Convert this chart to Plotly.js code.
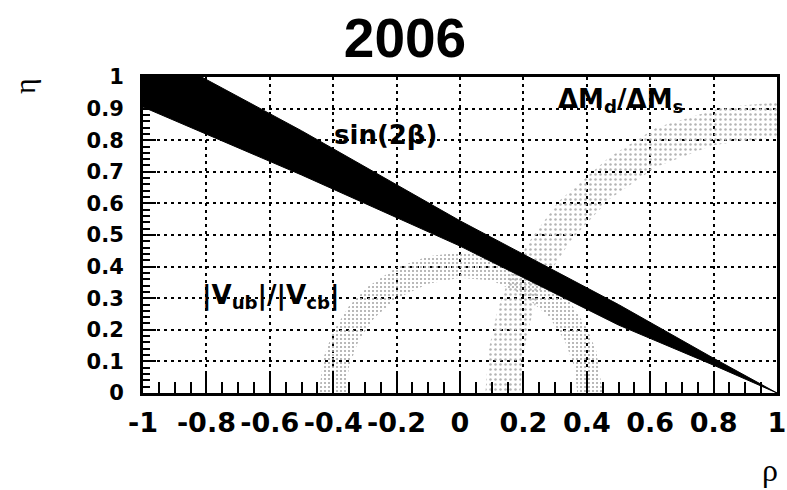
<!DOCTYPE html>
<html>
<head>
<meta charset="utf-8">
<script src="https://cdn.plot.ly/plotly-3.0.1.min.js"></script>
<style>html,body{margin:0;padding:0;background:#fff;}#chart{width:787px;height:490px;}</style>
</head>
<body>
<div id="chart"></div>
<script>
// sin(2beta) band edges (rho, eta)
var sinLowerRho = [-1.0, -0.5, 0.0, 0.5, 0.8, 1.0];
var sinLowerEta = [0.905, 0.69, 0.465, 0.215, 0.088, 0.0];
var sinUpperRho = [1.0, 0.8, 0.5, 0.0, -0.5, -0.815, -1.0];
var sinUpperEta = [0.0, 0.11, 0.28, 0.545, 0.83, 1.0, 1.1];

// |Vub|/|Vcb| band edges
var vubOuterRho = [-0.445, -0.43, -0.40, -0.35, -0.29, -0.20, -0.10, 0.0, 0.10, 0.20, 0.29, 0.35, 0.40, 0.43, 0.45];
var vubOuterEta = [0.0, 0.114, 0.195, 0.275, 0.337, 0.397, 0.433, 0.445, 0.438, 0.403, 0.344, 0.283, 0.206, 0.133, 0.0];
var vubInnerRho = [0.37, 0.36, 0.33, 0.28, 0.20, 0.10, 0.0, -0.10, -0.20, -0.27, -0.32, -0.35, -0.36];
var vubInnerEta = [0.0, 0.085, 0.167, 0.242, 0.311, 0.356, 0.365, 0.346, 0.299, 0.238, 0.165, 0.084, 0.0];

// Delta M_d / Delta M_s band edges
var dmOuterRho = [0.08, 0.09, 0.12, 0.16, 0.215, 0.31, 0.47, 0.62, 0.83, 1.0, 1.05];
var dmOuterEta = [0.0, 0.135, 0.268, 0.375, 0.475, 0.605, 0.745, 0.84, 0.904, 0.92, 0.92];
var dmInnerRho = [1.05, 1.0, 0.8, 0.62, 0.47, 0.35, 0.30, 0.25, 0.22, 0.20, 0.19];
var dmInnerEta = [0.81, 0.81, 0.785, 0.716, 0.612, 0.483, 0.407, 0.319, 0.219, 0.125, 0.0];

var xTickVals = [-1, -0.8, -0.6, -0.4, -0.2, 0, 0.2, 0.4, 0.6, 0.8, 1];
var xTickText = ['-1', '-0.8', '-0.6', '-0.4', '-0.2', '0', '0.2', '0.4', '0.6', '0.8', '1'];
var yTickVals = [0, 0.1, 0.2, 0.3, 0.4, 0.5, 0.6, 0.7, 0.8, 0.9, 1];
var yTickText = ['0', '0.1', '0.2', '0.3', '0.4', '0.5', '0.6', '0.7', '0.8', '0.9', '1'];

var labels = ['sin(2\u03b2)', '|V<sub>ub</sub>|/|V<sub>cb</sub>|', '\u0394M<sub>d</sub>/\u0394M<sub>s</sub>'];
var labelRho = [-0.235, -0.595, 0.507];
var labelEta = [0.818, 0.305, 0.925];

function band(r1, e1, r2, e2) {
  return {x: r1.concat(r2).concat([r1[0]]), y: e1.concat(e2).concat([e1[0]])};
}

var vub = band(vubOuterRho, vubOuterEta, vubInnerRho, vubInnerEta);
var dm = band(dmOuterRho, dmOuterEta, dmInnerRho, dmInnerEta);
var sb = band(sinLowerRho, sinLowerEta, sinUpperRho, sinUpperEta);

var traces = [
  {x: vub.x, y: vub.y, type: 'scatter', mode: 'lines', fill: 'toself', line: {width: 0, color: 'rgba(0,0,0,0)'},
   fillcolor: 'rgba(0,0,0,0)', fillpattern: {shape: '.', fgcolor: '#a8a8a8', size: 4, solidity: 0.22}, hoverinfo: 'skip', showlegend: false},
  {x: dm.x, y: dm.y, type: 'scatter', mode: 'lines', fill: 'toself', line: {width: 0, color: 'rgba(0,0,0,0)'},
   fillcolor: 'rgba(0,0,0,0)', fillpattern: {shape: '.', fgcolor: '#b4b4b4', size: 5, solidity: 0.2}, hoverinfo: 'skip', showlegend: false},
  {x: sb.x, y: sb.y, type: 'scatter', mode: 'lines', fill: 'toself', line: {width: 1, color: '#000'},
   fillcolor: '#000', hoverinfo: 'skip', showlegend: false}
];

var L = 143, R = 10, T = 77, B = 97, W = 787, H = 490;
var pw = W - L - R, ph = H - T - B;

var ann = [];
var labelSizes = [26, 26, 26];
for (var i = 0; i < labels.length; i++) {
  ann.push({x: labelRho[i], y: labelEta[i], xref: 'x', yref: 'y', text: labels[i], showarrow: false,
    font: {family: 'DejaVu Sans', size: labelSizes[i], color: '#000', weight: 'bold'}});
}
ann.push({x: (24 - L) / pw, y: (H - B - 86) / ph, xref: 'paper', yref: 'paper', xanchor: 'center', yanchor: 'middle',
  text: '\u03b7', showarrow: false, textangle: -90,
  font: {family: 'Liberation Serif', size: 30, color: '#000'}});
ann.push({x: (770 - L) / pw, y: (H - B - 470) / ph, xref: 'paper', yref: 'paper', xanchor: 'center', yanchor: 'middle',
  text: '\u03c1', showarrow: false,
  font: {family: 'Liberation Serif', size: 32, color: '#000'}});

var layout = {
  width: W, height: H,
  margin: {l: L, r: R, t: T, b: B, pad: 0},
  paper_bgcolor: '#fff', plot_bgcolor: '#fff',
  showlegend: false,
  title: {text: '2006', x: 405 / W, xref: 'container', xanchor: 'center', y: 1 - 38 / H, yref: 'container', yanchor: 'middle',
    font: {family: 'Liberation Sans', size: 55, color: '#000', weight: 'bold'}},
  xaxis: {range: [-1, 1], tickvals: xTickVals, ticktext: xTickText, tickangle: 0, ticks: 'inside', ticklen: 22, tickwidth: 2, tickcolor: '#000',
    showline: true, linewidth: 3, linecolor: '#000', mirror: true, zeroline: false,
    showgrid: true, gridcolor: '#000', gridwidth: 2, griddash: '3px,4px', ticklabeloverflow: 'allow',
    minor: {dtick: 0.05, tick0: 0, ticks: 'inside', ticklen: 11, tickwidth: 2, tickcolor: '#000', showgrid: false},
    tickfont: {family: 'DejaVu Sans', size: 27, color: '#000', weight: 'bold'}, ticklabelstandoff: 4, fixedrange: true},
  yaxis: {range: [0, 1], tickvals: yTickVals, ticktext: yTickText, ticks: 'inside', ticklen: 13, tickwidth: 2, tickcolor: '#000',
    showline: true, linewidth: 3, linecolor: '#000', mirror: true, zeroline: false,
    showgrid: true, gridcolor: '#000', gridwidth: 2, griddash: '3px,4px', ticklabeloverflow: 'allow',
    minor: {dtick: 0.02, tick0: 0, ticks: 'inside', ticklen: 7, tickwidth: 2, tickcolor: '#000', showgrid: false},
    tickfont: {family: 'DejaVu Sans', size: 21, color: '#000', weight: 'bold'}, ticklabelstandoff: 12, fixedrange: true},
  annotations: ann
};

Plotly.newPlot('chart', traces, layout, {staticPlot: true, displayModeBar: false});
</script>
</body>
</html>
